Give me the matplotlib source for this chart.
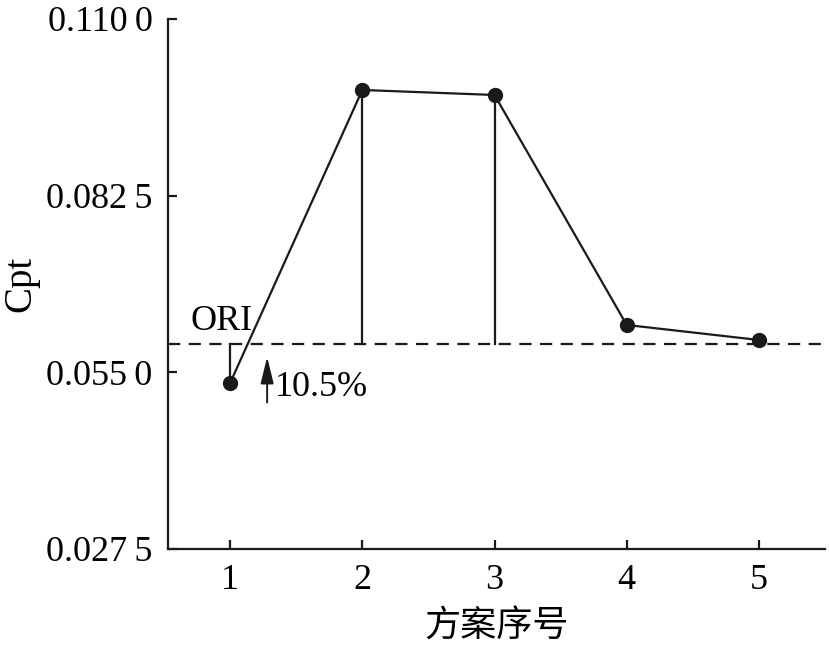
import matplotlib.pyplot as plt

plt.rcParams['font.family'] = ['Liberation Serif', 'DejaVu Serif']

schemes = [1, 2, 3, 4, 5]
cpt = [0.05334, 0.09895, 0.09817, 0.06237, 0.06003]
ori = 0.05941
y_ticks = [0.0275, 0.0550, 0.0825, 0.1100]
y_tick_labels = ['0.027\u20095', '0.055\u20090', '0.082\u20095', '0.110\u20090']

fig = plt.figure(figsize=(8.3, 6.46), dpi=100)
ax = fig.add_axes([0.2024, 0.1502, 0.7916, 0.8204])

ax.axhline(ori, color='#1a1a1a', lw=1.6, linestyle=(0, (5.5, 3.8)), zorder=1)

# vertical drops to the ORI line for the first three schemes
for x, y in zip(schemes[:3], cpt[:3]):
    ax.plot([x, x], [ori, y], color='#1a1a1a', lw=1.6, zorder=2)

ax.plot(schemes, cpt, color='#1a1a1a', lw=1.6, marker='o', markersize=10, zorder=3)

ax.text(0.70, ori + 0.0009, 'ORI', fontsize=26, ha='left', va='bottom')
ax.annotate('', xy=(1.28, 0.0574), xytext=(1.28, 0.0503),
            arrowprops=dict(arrowstyle='-|>,head_length=0.9,head_width=0.22',
                            color='#1a1a1a', lw=1.4,
                            mutation_scale=18, shrinkA=0, shrinkB=0))
ax.text(1.34, 0.0527, '10.5%', fontsize=26, ha='left', va='center')

ax.set_xlim(0.53, 5.5)
ax.set_ylim(0.0275, 0.110)
ax.set_xticks(schemes)
ax.set_yticks(y_ticks)
ax.set_yticklabels(y_tick_labels)

for s in ['top', 'right']:
    ax.spines[s].set_visible(False)
for s in ['left', 'bottom']:
    ax.spines[s].set_linewidth(1.6)
    ax.spines[s].set_color('#1a1a1a')

ax.tick_params(axis='both', direction='in', length=6.5, width=1.6,
               labelsize=26, color='#1a1a1a')
ax.tick_params(axis='y', pad=11)
ax.tick_params(axis='x', pad=11)

ax.set_ylabel('Cpt', fontsize=28, labelpad=5)
ax.set_xlabel('方案序号', fontsize=26, family=['Noto Sans CJK SC', 'DejaVu Sans'], labelpad=8)

fig.savefig('out.png', dpi=100)
